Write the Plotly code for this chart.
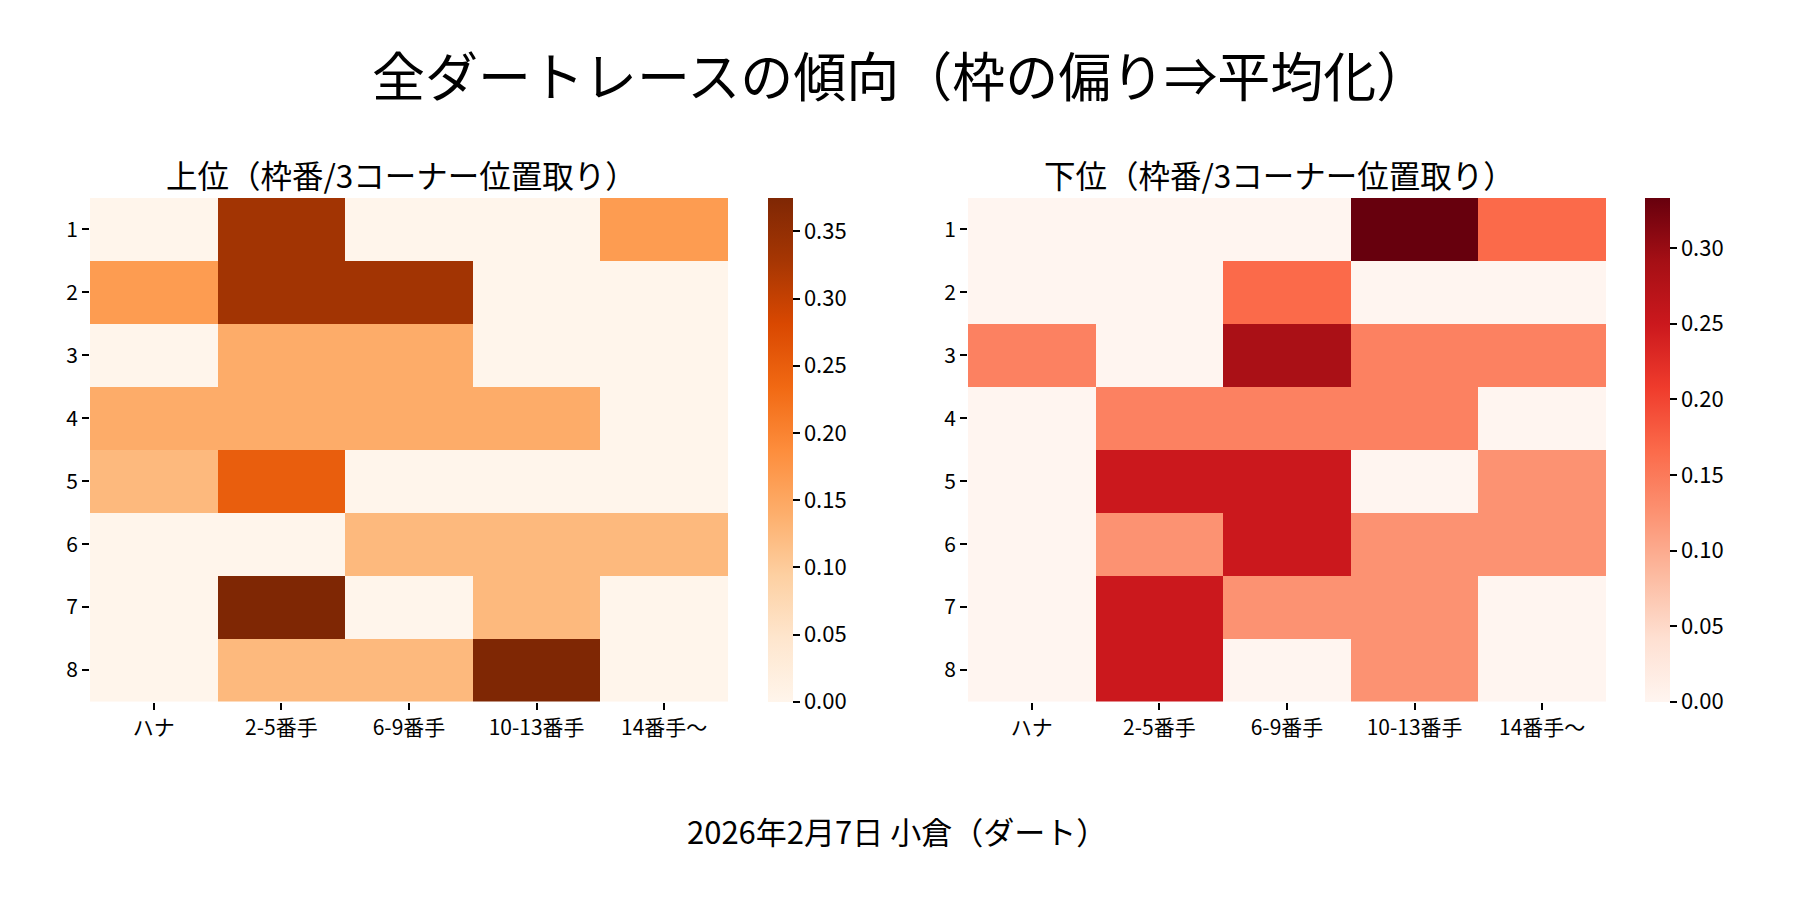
import plotly.graph_objects as go

# 枠番 x 3コーナー位置取り
waku = ["1", "2", "3", "4", "5", "6", "7", "8"]
ichidori = ["ハナ", "2-5番手", "6-9番手", "10-13番手", "14番手～"]

# 上位
joui = [
    [0.0, 0.3333, 0.0, 0.0, 0.1667],
    [0.1667, 0.3333, 0.3333, 0.0, 0.0],
    [0.0, 0.1429, 0.1429, 0.0, 0.0],
    [0.1429, 0.1429, 0.1429, 0.1429, 0.0],
    [0.125, 0.25, 0.0, 0.0, 0.0],
    [0.0, 0.0, 0.125, 0.125, 0.125],
    [0.0, 0.375, 0.0, 0.125, 0.0],
    [0.0, 0.125, 0.125, 0.375, 0.0],
]

# 下位
kai = [
    [0.0, 0.0, 0.0, 0.3333, 0.1667],
    [0.0, 0.0, 0.1667, 0.0, 0.0],
    [0.1429, 0.0, 0.2857, 0.1429, 0.1429],
    [0.0, 0.1429, 0.1429, 0.1429, 0.0],
    [0.0, 0.25, 0.25, 0.0, 0.125],
    [0.0, 0.125, 0.25, 0.125, 0.125],
    [0.0, 0.25, 0.125, 0.125, 0.0],
    [0.0, 0.25, 0.0, 0.125, 0.0],
]

ticks_joui = [0.0, 0.05, 0.10, 0.15, 0.20, 0.25, 0.30, 0.35]
ticks_kai = [0.0, 0.05, 0.10, 0.15, 0.20, 0.25, 0.30]

FONT = "Noto Sans CJK JP"
W, H = 1800, 900

# 位置 (px)
left_x = (90, 728)
right_x = (968, 1606)
top_y, bot_y = 198, 701.5
ydom = [1 - bot_y / H, 1 - top_y / H]


def cbar(xpx, tv):
    return dict(
        x=xpx / W, xanchor="left", xpad=0,
        y=sum(ydom) / 2, yanchor="middle", ypad=0,
        len=ydom[1] - ydom[0], lenmode="fraction",
        thickness=25, outlinewidth=0,
        ticks="outside", ticklen=7, tickwidth=1.6, tickcolor="black",
        tickvals=tv, ticktext=["%.2f" % t for t in tv],
        tickfont=dict(size=22, color="black", family=FONT),
    )


t1 = go.Heatmap(
    z=joui, x=ichidori, y=waku,
    colorscale="Oranges", zmin=0, zmax=max(max(r) for r in joui),
    colorbar=cbar(768, ticks_joui),
    xaxis="x", yaxis="y",
)
t2 = go.Heatmap(
    z=kai, x=ichidori, y=waku,
    colorscale="Reds", zmin=0, zmax=max(max(r) for r in kai),
    colorbar=cbar(1645, ticks_kai),
    xaxis="x2", yaxis="y2",
)

ax = dict(
    showgrid=False, zeroline=False, showline=False, type="category",
    ticks="outside", ticklen=7, tickwidth=1.6, tickcolor="black",
    tickfont=dict(size=21, color="black", family=FONT),
)


def label(text, xpx, ypx, size):
    return dict(text=text, x=xpx / W, y=1 - ypx / H, xref="paper", yref="paper",
                xanchor="center", yanchor="middle", showarrow=False,
                font=dict(size=size, family=FONT, color="black"))


fig = go.Figure(data=[t1, t2])
fig.update_layout(
    width=W, height=H,
    margin=dict(l=0, r=0, t=0, b=0),
    paper_bgcolor="white", plot_bgcolor="white",
    font=dict(family=FONT, color="black"),
    xaxis=dict(ax, domain=[left_x[0] / W, left_x[1] / W], anchor="y"),
    yaxis=dict(ax, domain=ydom, anchor="x", autorange="reversed"),
    xaxis2=dict(ax, domain=[right_x[0] / W, right_x[1] / W], anchor="y2"),
    yaxis2=dict(ax, domain=ydom, anchor="x2", autorange="reversed"),
    annotations=[
        label("全ダートレースの傾向（枠の偏り⇒平均化）", 900, 74, 53),
        label("上位（枠番/3コーナー位置取り）", 401, 174, 31.5),
        label("下位（枠番/3コーナー位置取り）", 1279, 174, 31.5),
        label("2026年2月7日 小倉（ダート）", 897, 830, 31),
    ],
)

# ページの余白を消す
fig.write_html("out.html", config={"displayModeBar": False},
               post_script="document.body.style.margin='0';")
